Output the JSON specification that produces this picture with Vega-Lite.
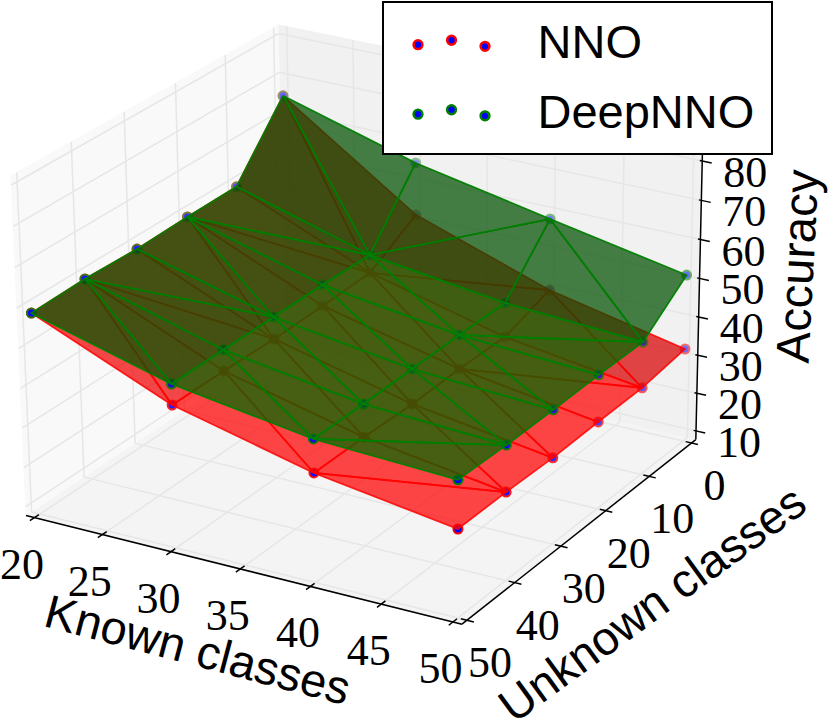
{
"$schema":"https://vega.github.io/schema/vega-lite/v6.json",
"width":830,"height":725,"padding":0,"autosize":"none",
"background":"#ffffff",
"view":{"stroke":null},
"config":{"legend":{"strokeWidth":2}},
"datasets":{
"points":[
{"id":"NNO|20_0","series":"NNO","known":20,"unknown":0,"accuracy":75.1},
{"id":"NNO|20_10","series":"NNO","known":20,"unknown":10,"accuracy":58.9},
{"id":"NNO|20_20","series":"NNO","known":20,"unknown":20,"accuracy":58.8},
{"id":"NNO|20_30","series":"NNO","known":20,"unknown":30,"accuracy":58.4},
{"id":"NNO|20_40","series":"NNO","known":20,"unknown":40,"accuracy":58.8},
{"id":"NNO|20_50","series":"NNO","known":20,"unknown":50,"accuracy":58.4},
{"id":"NNO|30_0","series":"NNO","known":30,"unknown":0,"accuracy":51.5},
{"id":"NNO|30_10","series":"NNO","known":30,"unknown":10,"accuracy":44.2},
{"id":"NNO|30_20","series":"NNO","known":30,"unknown":20,"accuracy":43.7},
{"id":"NNO|30_30","series":"NNO","known":30,"unknown":30,"accuracy":43.4},
{"id":"NNO|30_40","series":"NNO","known":30,"unknown":40,"accuracy":43.7},
{"id":"NNO|30_50","series":"NNO","known":30,"unknown":50,"accuracy":43.7},
{"id":"NNO|40_0","series":"NNO","known":40,"unknown":0,"accuracy":39.5},
{"id":"NNO|40_10","series":"NNO","known":40,"unknown":10,"accuracy":35.4},
{"id":"NNO|40_20","series":"NNO","known":40,"unknown":20,"accuracy":35.5},
{"id":"NNO|40_30","series":"NNO","known":40,"unknown":30,"accuracy":35.0},
{"id":"NNO|40_40","series":"NNO","known":40,"unknown":40,"accuracy":35.3},
{"id":"NNO|40_50","series":"NNO","known":40,"unknown":50,"accuracy":35.2},
{"id":"NNO|50_0","series":"NNO","known":50,"unknown":0,"accuracy":32.0},
{"id":"NNO|50_10","series":"NNO","known":50,"unknown":10,"accuracy":30.3},
{"id":"NNO|50_20","series":"NNO","known":50,"unknown":20,"accuracy":30.1},
{"id":"NNO|50_30","series":"NNO","known":50,"unknown":30,"accuracy":29.7},
{"id":"NNO|50_40","series":"NNO","known":50,"unknown":40,"accuracy":30.0},
{"id":"NNO|50_50","series":"NNO","known":50,"unknown":50,"accuracy":29.9},
{"id":"DeepNNO|20_0","series":"DeepNNO","known":20,"unknown":0,"accuracy":75.1},
{"id":"DeepNNO|20_10","series":"DeepNNO","known":20,"unknown":10,"accuracy":58.9},
{"id":"DeepNNO|20_20","series":"DeepNNO","known":20,"unknown":20,"accuracy":58.8},
{"id":"DeepNNO|20_30","series":"DeepNNO","known":20,"unknown":30,"accuracy":58.4},
{"id":"DeepNNO|20_40","series":"DeepNNO","known":20,"unknown":40,"accuracy":58.8},
{"id":"DeepNNO|20_50","series":"DeepNNO","known":20,"unknown":50,"accuracy":58.4},
{"id":"DeepNNO|30_0","series":"DeepNNO","known":30,"unknown":0,"accuracy":65.0},
{"id":"DeepNNO|30_10","series":"DeepNNO","known":30,"unknown":10,"accuracy":48.8},
{"id":"DeepNNO|30_20","series":"DeepNNO","known":30,"unknown":20,"accuracy":49.1},
{"id":"DeepNNO|30_30","series":"DeepNNO","known":30,"unknown":30,"accuracy":49.0},
{"id":"DeepNNO|30_40","series":"DeepNNO","known":30,"unknown":40,"accuracy":49.0},
{"id":"DeepNNO|30_50","series":"DeepNNO","known":30,"unknown":50,"accuracy":48.9},
{"id":"DeepNNO|40_0","series":"DeepNNO","known":40,"unknown":0,"accuracy":58.0},
{"id":"DeepNNO|40_10","series":"DeepNNO","known":40,"unknown":10,"accuracy":44.2},
{"id":"DeepNNO|40_20","series":"DeepNNO","known":40,"unknown":20,"accuracy":44.2},
{"id":"DeepNNO|40_30","series":"DeepNNO","known":40,"unknown":30,"accuracy":43.9},
{"id":"DeepNNO|40_40","series":"DeepNNO","known":40,"unknown":40,"accuracy":43.6},
{"id":"DeepNNO|40_50","series":"DeepNNO","known":40,"unknown":50,"accuracy":43.6},
{"id":"DeepNNO|50_0","series":"DeepNNO","known":50,"unknown":0,"accuracy":51.2},
{"id":"DeepNNO|50_10","series":"DeepNNO","known":50,"unknown":10,"accuracy":42.1},
{"id":"DeepNNO|50_20","series":"DeepNNO","known":50,"unknown":20,"accuracy":42.1},
{"id":"DeepNNO|50_30","series":"DeepNNO","known":50,"unknown":30,"accuracy":41.8},
{"id":"DeepNNO|50_40","series":"DeepNNO","known":50,"unknown":40,"accuracy":41.7},
{"id":"DeepNNO|50_50","series":"DeepNNO","known":50,"unknown":50,"accuracy":42.0}
],
"tris":[
{"tri":"a1","face":"flap","v":["20_0","30_0","30_10","20_0"]},
{"tri":"a2","face":"flap","v":["20_0","20_10","30_10","20_0"]},
{"tri":"b1","face":"flap","v":["30_0","40_0","30_10","30_0"]},
{"tri":"b2","face":"flap","v":["30_10","40_10","40_0","30_10"]},
{"tri":"c1","face":"flap","v":["40_0","50_0","50_10","40_0"]},
{"tri":"c2","face":"flap","v":["40_10","40_0","50_10","40_10"]},
{"tri":"a3","face":"left","v":["20_10","20_20","30_10","20_10"]},
{"tri":"a4","face":"left","v":["20_20","30_10","30_20","20_20"]},
{"tri":"a5","face":"left","v":["20_20","30_20","30_30","20_20"]},
{"tri":"a6","face":"left","v":["20_20","20_30","30_30","20_20"]},
{"tri":"a7","face":"left","v":["20_30","20_40","30_30","20_30"]},
{"tri":"a8","face":"left","v":["20_40","30_30","30_40","20_40"]},
{"tri":"a9","face":"left","v":["20_40","30_40","30_50","20_40"]},
{"tri":"a10","face":"left","v":["20_40","20_50","30_50","20_40"]},
{"tri":"b3","face":"flat","v":["30_10","40_20","40_10","30_10"]},
{"tri":"b4","face":"flat","v":["30_20","30_10","40_20","30_20"]},
{"tri":"b5","face":"flat","v":["30_20","40_30","40_20","30_20"]},
{"tri":"b6","face":"flat","v":["30_30","30_20","40_30","30_30"]},
{"tri":"b7","face":"flat","v":["30_30","40_40","40_30","30_30"]},
{"tri":"b8","face":"flat","v":["30_40","30_30","40_40","30_40"]},
{"tri":"b9","face":"flat","v":["30_40","40_50","40_40","30_40"]},
{"tri":"b10","face":"flat","v":["30_50","40_50","30_40","30_50"]},
{"tri":"c3","face":"flat","v":["40_20","40_10","50_10","40_20"]},
{"tri":"c4","face":"flat","v":["40_20","50_20","50_10","40_20"]},
{"tri":"c5","face":"flat","v":["40_20","50_30","50_20","40_20"]},
{"tri":"c6","face":"flat","v":["40_30","40_20","50_30","40_30"]},
{"tri":"c7","face":"flat","v":["40_30","50_40","50_30","40_30"]},
{"tri":"c8","face":"flat","v":["40_40","40_30","50_40","40_40"]},
{"tri":"c9","face":"flat","v":["40_50","40_40","50_40","40_50"]},
{"tri":"c10","face":"flat","v":["40_50","50_50","50_40","40_50"]}
],
"frame":[
{"part":"left","seg":"left","known":[19.375,19.375,19.375,19.375],"unknown":[-1.04,51.04,51.04,-1.04],"accuracy":[7.7,7.7,92.2,92.2]},
{"part":"right","seg":"right","known":[19.375,50.625,50.625,19.375],"unknown":[-1.04,-1.04,-1.04,-1.04],"accuracy":[7.7,7.7,92.2,92.2]},
{"part":"floor","seg":"floor","known":[19.375,50.625,50.625,19.375],"unknown":[-1.04,-1.04,51.04,51.04],"accuracy":[7.7,7.7,7.7,7.7]},
{"part":"grid","seg":"fk20","known":[20,20],"unknown":[-1.04,51.04],"accuracy":[7.7,7.7]},
{"part":"grid","seg":"fk25","known":[25,25],"unknown":[-1.04,51.04],"accuracy":[7.7,7.7]},
{"part":"grid","seg":"fk30","known":[30,30],"unknown":[-1.04,51.04],"accuracy":[7.7,7.7]},
{"part":"grid","seg":"fk35","known":[35,35],"unknown":[-1.04,51.04],"accuracy":[7.7,7.7]},
{"part":"grid","seg":"fk40","known":[40,40],"unknown":[-1.04,51.04],"accuracy":[7.7,7.7]},
{"part":"grid","seg":"fk45","known":[45,45],"unknown":[-1.04,51.04],"accuracy":[7.7,7.7]},
{"part":"grid","seg":"fk50","known":[50,50],"unknown":[-1.04,51.04],"accuracy":[7.7,7.7]},
{"part":"grid","seg":"fu0","known":[19.375,50.625],"unknown":[0,0],"accuracy":[7.7,7.7]},
{"part":"grid","seg":"fu10","known":[19.375,50.625],"unknown":[10,10],"accuracy":[7.7,7.7]},
{"part":"grid","seg":"fu20","known":[19.375,50.625],"unknown":[20,20],"accuracy":[7.7,7.7]},
{"part":"grid","seg":"fu30","known":[19.375,50.625],"unknown":[30,30],"accuracy":[7.7,7.7]},
{"part":"grid","seg":"fu40","known":[19.375,50.625],"unknown":[40,40],"accuracy":[7.7,7.7]},
{"part":"grid","seg":"fu50","known":[19.375,50.625],"unknown":[50,50],"accuracy":[7.7,7.7]},
{"part":"grid","seg":"lu0","known":[19.375,19.375],"unknown":[0,0],"accuracy":[7.7,92.2]},
{"part":"grid","seg":"lu10","known":[19.375,19.375],"unknown":[10,10],"accuracy":[7.7,92.2]},
{"part":"grid","seg":"lu20","known":[19.375,19.375],"unknown":[20,20],"accuracy":[7.7,92.2]},
{"part":"grid","seg":"lu30","known":[19.375,19.375],"unknown":[30,30],"accuracy":[7.7,92.2]},
{"part":"grid","seg":"lu40","known":[19.375,19.375],"unknown":[40,40],"accuracy":[7.7,92.2]},
{"part":"grid","seg":"lu50","known":[19.375,19.375],"unknown":[50,50],"accuracy":[7.7,92.2]},
{"part":"grid","seg":"lz10","known":[19.375,19.375],"unknown":[-1.04,51.04],"accuracy":[10,10]},
{"part":"grid","seg":"lz20","known":[19.375,19.375],"unknown":[-1.04,51.04],"accuracy":[20,20]},
{"part":"grid","seg":"lz30","known":[19.375,19.375],"unknown":[-1.04,51.04],"accuracy":[30,30]},
{"part":"grid","seg":"lz40","known":[19.375,19.375],"unknown":[-1.04,51.04],"accuracy":[40,40]},
{"part":"grid","seg":"lz50","known":[19.375,19.375],"unknown":[-1.04,51.04],"accuracy":[50,50]},
{"part":"grid","seg":"lz60","known":[19.375,19.375],"unknown":[-1.04,51.04],"accuracy":[60,60]},
{"part":"grid","seg":"lz70","known":[19.375,19.375],"unknown":[-1.04,51.04],"accuracy":[70,70]},
{"part":"grid","seg":"lz80","known":[19.375,19.375],"unknown":[-1.04,51.04],"accuracy":[80,80]},
{"part":"grid","seg":"lz90","known":[19.375,19.375],"unknown":[-1.04,51.04],"accuracy":[90,90]},
{"part":"grid","seg":"rk20","known":[20,20],"unknown":[-1.04,-1.04],"accuracy":[7.7,92.2]},
{"part":"grid","seg":"rk25","known":[25,25],"unknown":[-1.04,-1.04],"accuracy":[7.7,92.2]},
{"part":"grid","seg":"rk30","known":[30,30],"unknown":[-1.04,-1.04],"accuracy":[7.7,92.2]},
{"part":"grid","seg":"rk35","known":[35,35],"unknown":[-1.04,-1.04],"accuracy":[7.7,92.2]},
{"part":"grid","seg":"rk40","known":[40,40],"unknown":[-1.04,-1.04],"accuracy":[7.7,92.2]},
{"part":"grid","seg":"rk45","known":[45,45],"unknown":[-1.04,-1.04],"accuracy":[7.7,92.2]},
{"part":"grid","seg":"rk50","known":[50,50],"unknown":[-1.04,-1.04],"accuracy":[7.7,92.2]},
{"part":"grid","seg":"rz10","known":[19.375,50.625],"unknown":[-1.04,-1.04],"accuracy":[10,10]},
{"part":"grid","seg":"rz20","known":[19.375,50.625],"unknown":[-1.04,-1.04],"accuracy":[20,20]},
{"part":"grid","seg":"rz30","known":[19.375,50.625],"unknown":[-1.04,-1.04],"accuracy":[30,30]},
{"part":"grid","seg":"rz40","known":[19.375,50.625],"unknown":[-1.04,-1.04],"accuracy":[40,40]},
{"part":"grid","seg":"rz50","known":[19.375,50.625],"unknown":[-1.04,-1.04],"accuracy":[50,50]},
{"part":"grid","seg":"rz60","known":[19.375,50.625],"unknown":[-1.04,-1.04],"accuracy":[60,60]},
{"part":"grid","seg":"rz70","known":[19.375,50.625],"unknown":[-1.04,-1.04],"accuracy":[70,70]},
{"part":"grid","seg":"rz80","known":[19.375,50.625],"unknown":[-1.04,-1.04],"accuracy":[80,80]},
{"part":"grid","seg":"rz90","known":[19.375,50.625],"unknown":[-1.04,-1.04],"accuracy":[90,90]},
{"part":"axis","seg":"ax","known":[19.375,50.625],"unknown":[51.04,51.04],"accuracy":[7.7,7.7]},
{"part":"axis","seg":"ay","known":[50.625,50.625],"unknown":[-1.04,51.04],"accuracy":[7.7,7.7]},
{"part":"axis","seg":"az","known":[50.625,50.625],"unknown":[-1.04,-1.04],"accuracy":[7.7,92.2]},
{"part":"axis","seg":"tx20","known":[20,20],"unknown":[50.2,51.9],"accuracy":[7.7,7.7]},
{"part":"axis","seg":"tx25","known":[25,25],"unknown":[50.2,51.9],"accuracy":[7.7,7.7]},
{"part":"axis","seg":"tx30","known":[30,30],"unknown":[50.2,51.9],"accuracy":[7.7,7.7]},
{"part":"axis","seg":"tx35","known":[35,35],"unknown":[50.2,51.9],"accuracy":[7.7,7.7]},
{"part":"axis","seg":"tx40","known":[40,40],"unknown":[50.2,51.9],"accuracy":[7.7,7.7]},
{"part":"axis","seg":"tx45","known":[45,45],"unknown":[50.2,51.9],"accuracy":[7.7,7.7]},
{"part":"axis","seg":"tx50","known":[50,50],"unknown":[50.2,51.9],"accuracy":[7.7,7.7]},
{"part":"axis","seg":"ty0","known":[50.2,51.1],"unknown":[0,0],"accuracy":[7.7,7.7]},
{"part":"axis","seg":"ty10","known":[50.2,51.1],"unknown":[10,10],"accuracy":[7.7,7.7]},
{"part":"axis","seg":"ty20","known":[50.2,51.1],"unknown":[20,20],"accuracy":[7.7,7.7]},
{"part":"axis","seg":"ty30","known":[50.2,51.1],"unknown":[30,30],"accuracy":[7.7,7.7]},
{"part":"axis","seg":"ty40","known":[50.2,51.1],"unknown":[40,40],"accuracy":[7.7,7.7]},
{"part":"axis","seg":"ty50","known":[50.2,51.1],"unknown":[50,50],"accuracy":[7.7,7.7]},
{"part":"axis","seg":"tz10","known":[50.45,51.3],"unknown":[-1.04,-1.04],"accuracy":[10,10]},
{"part":"axis","seg":"tz20","known":[50.45,51.3],"unknown":[-1.04,-1.04],"accuracy":[20,20]},
{"part":"axis","seg":"tz30","known":[50.45,51.3],"unknown":[-1.04,-1.04],"accuracy":[30,30]},
{"part":"axis","seg":"tz40","known":[50.45,51.3],"unknown":[-1.04,-1.04],"accuracy":[40,40]},
{"part":"axis","seg":"tz50","known":[50.45,51.3],"unknown":[-1.04,-1.04],"accuracy":[50,50]},
{"part":"axis","seg":"tz60","known":[50.45,51.3],"unknown":[-1.04,-1.04],"accuracy":[60,60]},
{"part":"axis","seg":"tz70","known":[50.45,51.3],"unknown":[-1.04,-1.04],"accuracy":[70,70]},
{"part":"axis","seg":"tz80","known":[50.45,51.3],"unknown":[-1.04,-1.04],"accuracy":[80,80]}
],
"labels":[
{"part":"xlab","label":"20","known":20,"unknown":51.04,"accuracy":7.7},
{"part":"xlab","label":"25","known":25,"unknown":51.04,"accuracy":7.7},
{"part":"xlab","label":"30","known":30,"unknown":51.04,"accuracy":7.7},
{"part":"xlab","label":"35","known":35,"unknown":51.04,"accuracy":7.7},
{"part":"xlab","label":"40","known":40,"unknown":51.04,"accuracy":7.7},
{"part":"xlab","label":"45","known":45,"unknown":51.04,"accuracy":7.7},
{"part":"xlab","label":"50","known":50,"unknown":51.04,"accuracy":7.7},
{"part":"ylab","label":"0","known":50.625,"unknown":0,"accuracy":7.7},
{"part":"ylab","label":"10","known":50.625,"unknown":10,"accuracy":7.7},
{"part":"ylab","label":"20","known":50.625,"unknown":20,"accuracy":7.7},
{"part":"ylab","label":"30","known":50.625,"unknown":30,"accuracy":7.7},
{"part":"ylab","label":"40","known":50.625,"unknown":40,"accuracy":7.7},
{"part":"ylab","label":"50","known":50.625,"unknown":50,"accuracy":7.7},
{"part":"zlab","label":"10","known":50.625,"unknown":-1.04,"accuracy":10},
{"part":"zlab","label":"20","known":50.625,"unknown":-1.04,"accuracy":20},
{"part":"zlab","label":"30","known":50.625,"unknown":-1.04,"accuracy":30},
{"part":"zlab","label":"40","known":50.625,"unknown":-1.04,"accuracy":40},
{"part":"zlab","label":"50","known":50.625,"unknown":-1.04,"accuracy":50},
{"part":"zlab","label":"60","known":50.625,"unknown":-1.04,"accuracy":60},
{"part":"zlab","label":"70","known":50.625,"unknown":-1.04,"accuracy":70},
{"part":"zlab","label":"80","known":50.625,"unknown":-1.04,"accuracy":80},
{"part":"tx","label":"Known classes","known":35,"unknown":51.04,"accuracy":7.7},
{"part":"ty","label":"Unknown classes","known":50.625,"unknown":25,"accuracy":7.7},
{"part":"tz","label":"Accuracy","known":50.625,"unknown":-1.04,"accuracy":50}
]
},
"encoding":{
"x":{"field":"sx","type":"quantitative","scale":{"domain":[0,830]},"axis":null},
"y":{"field":"sy","type":"quantitative","scale":{"domain":[725,0]},"axis":null}
},
"layer":[
{"data":{"name":"frame"},
"transform":[
{"flatten":["known","unknown","accuracy"]},
{"calculate":"1-.001*(datum.known-20)-.0014*datum.unknown-.0003645*(datum.accuracy-7.7)","as":"w"},
{"calculate":"(287.5+12.5*(datum.known-20)-5.006*datum.unknown-.16962*(datum.accuracy-7.7))/datum.w","as":"sx"},
{"calculate":"(349.6+2.6057*(datum.known-20)+2.5684*datum.unknown-3.8*(datum.accuracy-7.7))/datum.w","as":"sy"}
],
"encoding":{"detail":{"field":"seg"}},
"layer":[
{"transform":[{"filter":"datum.part==='left'"}],"mark":{"type":"line","order":null,"fill":"#f9f9f9","stroke":"#f9f9f9","strokeWidth":1}},
{"transform":[{"filter":"datum.part==='right'"}],"mark":{"type":"line","order":null,"fill":"#f1f1f1","stroke":"#f1f1f1","strokeWidth":1}},
{"transform":[{"filter":"datum.part==='floor'"}],"mark":{"type":"line","order":null,"fill":"#f4f4f4","stroke":"#f4f4f4","strokeWidth":1}},
{"transform":[{"filter":"datum.part==='grid'"}],"mark":{"type":"line","order":null,"stroke":"#e6e6e6","strokeWidth":1.5}},
{"transform":[{"filter":"datum.part==='axis'"}],"mark":{"type":"line","order":null,"stroke":"#000000","strokeWidth":1.5}}
]},
{"data":{"name":"points"},
"transform":[
{"filter":"datum.series==='NNO'"},
{"calculate":"1-.001*(datum.known-20)-.0014*datum.unknown-.0003645*(datum.accuracy-7.7)","as":"w"},
{"calculate":"(287.5+12.5*(datum.known-20)-5.006*datum.unknown-.16962*(datum.accuracy-7.7))/datum.w","as":"sx"},
{"calculate":"(349.6+2.6057*(datum.known-20)+2.5684*datum.unknown-3.8*(datum.accuracy-7.7))/datum.w","as":"sy"},
{"calculate":".35+.65*(.3*(datum.known-20)/30+.7*datum.unknown/50)","as":"shade"}
],
"mark":{"type":"point","shape":"circle","filled":true,"fill":"#0000ff","size":81,"strokeWidth":2},
"encoding":{
"stroke":{"field":"series","type":"nominal","scale":{"domain":["NNO","DeepNNO"],"range":["#ff0000","#008000"]},
"legend":{"title":null,"orient":"none","legendX":383,"legendY":2,"fillColor":"#ffffff","strokeColor":"#000000","padding":17,
"symbolType":"M -1.613 0.03 a 0.187 0.187 0 1 0 0.374 0 a 0.187 0.187 0 1 0 -0.374 0 Z M -0.187 -0.16 a 0.187 0.187 0 1 0 0.374 0 a 0.187 0.187 0 1 0 -0.374 0 Z M 1.239 0.1 a 0.187 0.187 0 1 0 0.374 0 a 0.187 0.187 0 1 0 -0.374 0 Z",
"symbolSize":2209,"symbolStrokeWidth":2.5,"symbolFillColor":"#0000ff","symbolOpacity":1,"symbolOffset":26.5,"labelOffset":61,"labelFont":"Liberation Sans","labelFontSize":47,"labelColor":"#000000","rowPadding":21.5,"labelLimit":400,
"labelBaseline":"middle"}},
"opacity":{"field":"shade","type":"quantitative","scale":null,"legend":null}
}},
{"data":{"name":"tris"},
"transform":[
{"flatten":["v"]},
{"calculate":"'NNO|'+datum.v","as":"id"},
{"lookup":"id","from":{"data":{"name":"points"},"key":"id","fields":["known","unknown","accuracy"]}},
{"calculate":"1-.001*(datum.known-20)-.0014*datum.unknown-.0003645*(datum.accuracy-7.7)","as":"w"},
{"calculate":"(287.5+12.5*(datum.known-20)-5.006*datum.unknown-.16962*(datum.accuracy-7.7))/datum.w","as":"sx"},
{"calculate":"(349.6+2.6057*(datum.known-20)+2.5684*datum.unknown-3.8*(datum.accuracy-7.7))/datum.w","as":"sy"}
],
"encoding":{"detail":{"field":"tri"}},
"layer":[
{"transform":[{"filter":"datum.face==='flap'"}],"mark":{"type":"line","order":null,"fill":"#da0000","fillOpacity":0.72,"stroke":"#ff0000","strokeOpacity":0.85,"strokeWidth":1.7}},
{"transform":[{"filter":"datum.face==='left'"}],"mark":{"type":"line","order":null,"fill":"#f00000","fillOpacity":0.72,"stroke":"#ff0000","strokeOpacity":0.85,"strokeWidth":1.7}},
{"transform":[{"filter":"datum.face==='flat'"}],"mark":{"type":"line","order":null,"fill":"#ff0000","fillOpacity":0.72,"stroke":"#ff0000","strokeOpacity":0.85,"strokeWidth":1.7}}
]},
{"data":{"name":"points"},
"transform":[
{"filter":"datum.series==='DeepNNO'"},
{"calculate":"1-.001*(datum.known-20)-.0014*datum.unknown-.0003645*(datum.accuracy-7.7)","as":"w"},
{"calculate":"(287.5+12.5*(datum.known-20)-5.006*datum.unknown-.16962*(datum.accuracy-7.7))/datum.w","as":"sx"},
{"calculate":"(349.6+2.6057*(datum.known-20)+2.5684*datum.unknown-3.8*(datum.accuracy-7.7))/datum.w","as":"sy"},
{"calculate":".35+.65*(.3*(datum.known-20)/30+.7*datum.unknown/50)","as":"shade"}
],
"mark":{"type":"point","shape":"circle","filled":true,"fill":"#0000ff","size":81,"strokeWidth":2},
"encoding":{
"stroke":{"field":"series","type":"nominal"},
"opacity":{"field":"shade","type":"quantitative","scale":null,"legend":null}
}},
{"data":{"name":"tris"},
"transform":[
{"flatten":["v"]},
{"calculate":"'DeepNNO|'+datum.v","as":"id"},
{"lookup":"id","from":{"data":{"name":"points"},"key":"id","fields":["known","unknown","accuracy"]}},
{"calculate":"1-.001*(datum.known-20)-.0014*datum.unknown-.0003645*(datum.accuracy-7.7)","as":"w"},
{"calculate":"(287.5+12.5*(datum.known-20)-5.006*datum.unknown-.16962*(datum.accuracy-7.7))/datum.w","as":"sx"},
{"calculate":"(349.6+2.6057*(datum.known-20)+2.5684*datum.unknown-3.8*(datum.accuracy-7.7))/datum.w","as":"sy"}
],
"encoding":{"detail":{"field":"tri"}},
"layer":[
{"transform":[{"filter":"datum.face==='flap'"}],"mark":{"type":"line","order":null,"fill":"#005000","fillOpacity":0.72,"stroke":"#008000","strokeOpacity":0.95,"strokeWidth":1.7}},
{"transform":[{"filter":"datum.face==='left'"}],"mark":{"type":"line","order":null,"fill":"#005600","fillOpacity":0.72,"stroke":"#008000","strokeOpacity":0.95,"strokeWidth":1.7}},
{"transform":[{"filter":"datum.face==='flat'"}],"mark":{"type":"line","order":null,"fill":"#006a00","fillOpacity":0.72,"stroke":"#008000","strokeOpacity":0.95,"strokeWidth":1.7}}
]},
{"data":{"name":"labels"},
"transform":[
{"calculate":"1-.001*(datum.known-20)-.0014*datum.unknown-.0003645*(datum.accuracy-7.7)","as":"w"},
{"calculate":"(287.5+12.5*(datum.known-20)-5.006*datum.unknown-.16962*(datum.accuracy-7.7))/datum.w","as":"sx"},
{"calculate":"(349.6+2.6057*(datum.known-20)+2.5684*datum.unknown-3.8*(datum.accuracy-7.7))/datum.w","as":"sy"}
],
"encoding":{"text":{"field":"label","type":"nominal"}},
"layer":[
{"transform":[{"filter":"datum.part==='xlab'"}],"mark":{"type":"text","font":"Liberation Serif","fontSize":44,"color":"#000000","align":"center","baseline":"middle","dx":-12.5,"dy":48}},
{"transform":[{"filter":"datum.part==='ylab'"}],"mark":{"type":"text","font":"Liberation Serif","fontSize":44,"color":"#000000","align":"center","baseline":"middle","dx":23,"dy":44}},
{"transform":[{"filter":"datum.part==='zlab'"}],"mark":{"type":"text","font":"Liberation Serif","fontSize":44,"color":"#000000","align":"center","baseline":"middle","dx":43,"dy":13}},
{"transform":[{"filter":"datum.part==='tx'"}],"mark":{"type":"text","font":"Liberation Sans","fontSize":47,"color":"#000000","align":"center","baseline":"middle","angle":14.7,"dx":-20.5,"dy":91.2}},
{"transform":[{"filter":"datum.part==='ty'"}],"mark":{"type":"text","font":"Liberation Sans","fontSize":47,"color":"#000000","align":"center","baseline":"middle","angle":324,"dx":11.3,"dy":103.5}},
{"transform":[{"filter":"datum.part==='tz'"}],"mark":{"type":"text","font":"Liberation Sans","fontSize":47,"color":"#000000","align":"center","baseline":"middle","angle":273,"dx":17.2,"dy":99.2}}
]}
]
}
